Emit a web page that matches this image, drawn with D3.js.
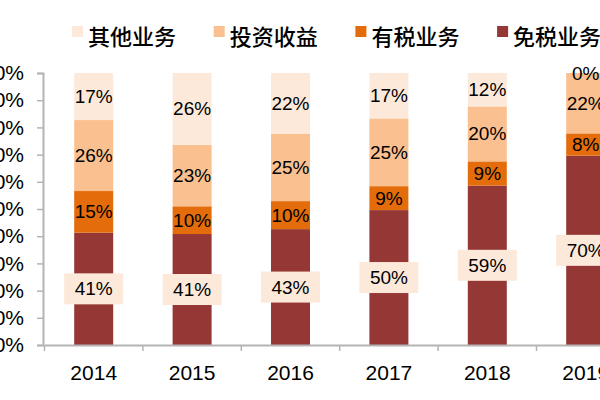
<!DOCTYPE html>
<html>
<head>
<meta charset="utf-8">
<script src="https://cdn.jsdelivr.net/npm/d3@7"></script>
<style>
  html, body { margin: 0; padding: 0; background: #fff; }
  svg { display: block; }
</style>
</head>
<body>
<svg id="chart" width="600" height="400"></svg>
<script>
// ---- data ----
const years = ["2014", "2015", "2016", "2017", "2018", "2019"];
const seriesNames = ["免税业务", "有税业务", "投资收益", "其他业务"];
const dutyFree = [41.3, 40.8, 42.6, 49.6, 58.6, 69.6];
const taxed = [15.3, 10.2, 10.3, 8.8, 8.9, 8.2];
const investment = [26.1, 22.6, 24.8, 24.9, 20.2, 22.2];
const other = [17.3, 26.4, 22.3, 16.7, 12.3, 0];
const yTicks = [0, 10, 20, 30, 40, 50, 60, 70, 80, 90, 100];
const legendOrder = ["其他业务", "投资收益", "有税业务", "免税业务"];
const colors = {"免税业务": "#953735", "有税业务": "#E46C0A", "投资收益": "#FAC090", "其他业务": "#FDE9D9"};

// ---- build table ----
const seriesValues = {"免税业务": dutyFree, "有税业务": taxed, "投资收益": investment, "其他业务": other};
const table = years.map((y, i) => {
  const row = {year: y};
  seriesNames.forEach(s => row[s] = seriesValues[s][i]);
  return row;
});
const stacked = d3.stack().keys(seriesNames)(table);

const svg = d3.select("#chart");
const x = d3.scaleBand().domain(years).range([44.5, 44.5 + 6 * 98.4]).paddingInner(0).paddingOuter(0);
const y = d3.scaleLinear().domain([0, 100]).range([345, 73]);
const barW = 39;
const fontLatin = "Arial, 'Liberation Sans', sans-serif";
const fontCJK = "'Noto Sans CJK SC', sans-serif";

// ---- axes ----
const yAxis = svg.append("g").attr("transform", "translate(43,0)")
  .call(d3.axisLeft(y).tickValues(yTicks).tickFormat(d => d + "%").tickSize(6).tickPadding(13));
yAxis.select(".domain").attr("stroke", "#b4b4b4").attr("stroke-width", 2);
yAxis.selectAll(".tick line").attr("stroke", "#b4b4b4").attr("stroke-width", 1.5);
yAxis.selectAll(".tick text").attr("font-size", 21).attr("font-family", fontLatin).attr("fill", "#000");

// bars
const layers = svg.append("g").selectAll("g").data(stacked).join("g")
  .attr("fill", d => colors[d.key]);
layers.selectAll("rect").data(d => d).join("rect")
  .attr("x", d => x(d.data.year) + x.bandwidth() / 2 - barW / 2)
  .attr("width", barW)
  .attr("y", d => y(d[1]))
  .attr("height", d => y(d[0]) - y(d[1]));

const xAxis = svg.append("g").attr("transform", "translate(0,345)")
  .call(d3.axisBottom(x).tickSize(0).tickPadding(20));
xAxis.select(".domain").attr("stroke", "#b4b4b4").attr("stroke-width", 2);
xAxis.selectAll(".tick text").attr("font-size", 21).attr("font-family", fontLatin).attr("fill", "#000");
// boundary ticks
const bounds = years.map(yv => x(yv)).concat([x(years[years.length - 1]) + x.bandwidth()]);
svg.append("g").selectAll("line").data(bounds).join("line")
  .attr("x1", d => d).attr("x2", d => d).attr("y1", 345).attr("y2", 351)
  .attr("stroke", "#b4b4b4").attr("stroke-width", 1.5);

// ---- labels ----
const labelG = svg.append("g");
stacked.forEach(layer => {
  layer.forEach(d => {
    const cx = x(d.data.year) + x.bandwidth() / 2;
    const cy = (y(d[0]) + y(d[1])) / 2;
    const txt = Math.round(d[1] - d[0]) + "%";
    if (layer.key === "免税业务") {
      labelG.append("rect").attr("x", cx - 29.5).attr("y", cy - 15.5).attr("width", 59).attr("height", 31)
        .attr("fill", "#FDE9D9");
    }
    labelG.append("text").attr("x", cx).attr("y", cy).attr("text-anchor", "middle")
      .attr("dominant-baseline", "central").attr("font-size", 19).attr("font-family", fontLatin)
      .attr("fill", "#000").text(txt);
  });
});

// ---- legend ----
const legend = svg.append("g");
legendOrder.forEach((name, i) => {
  const lx = 72 + i * 141.7;
  legend.append("rect").attr("x", lx).attr("y", 26).attr("width", 11).attr("height", 11).attr("fill", colors[name]);
  legend.append("text").attr("x", lx + 16).attr("y", 35).attr("dominant-baseline", "central")
    .attr("font-size", 22).attr("font-family", fontCJK).attr("font-weight", 500).attr("fill", "#000").text(name);
});
</script>
</body>
</html>
